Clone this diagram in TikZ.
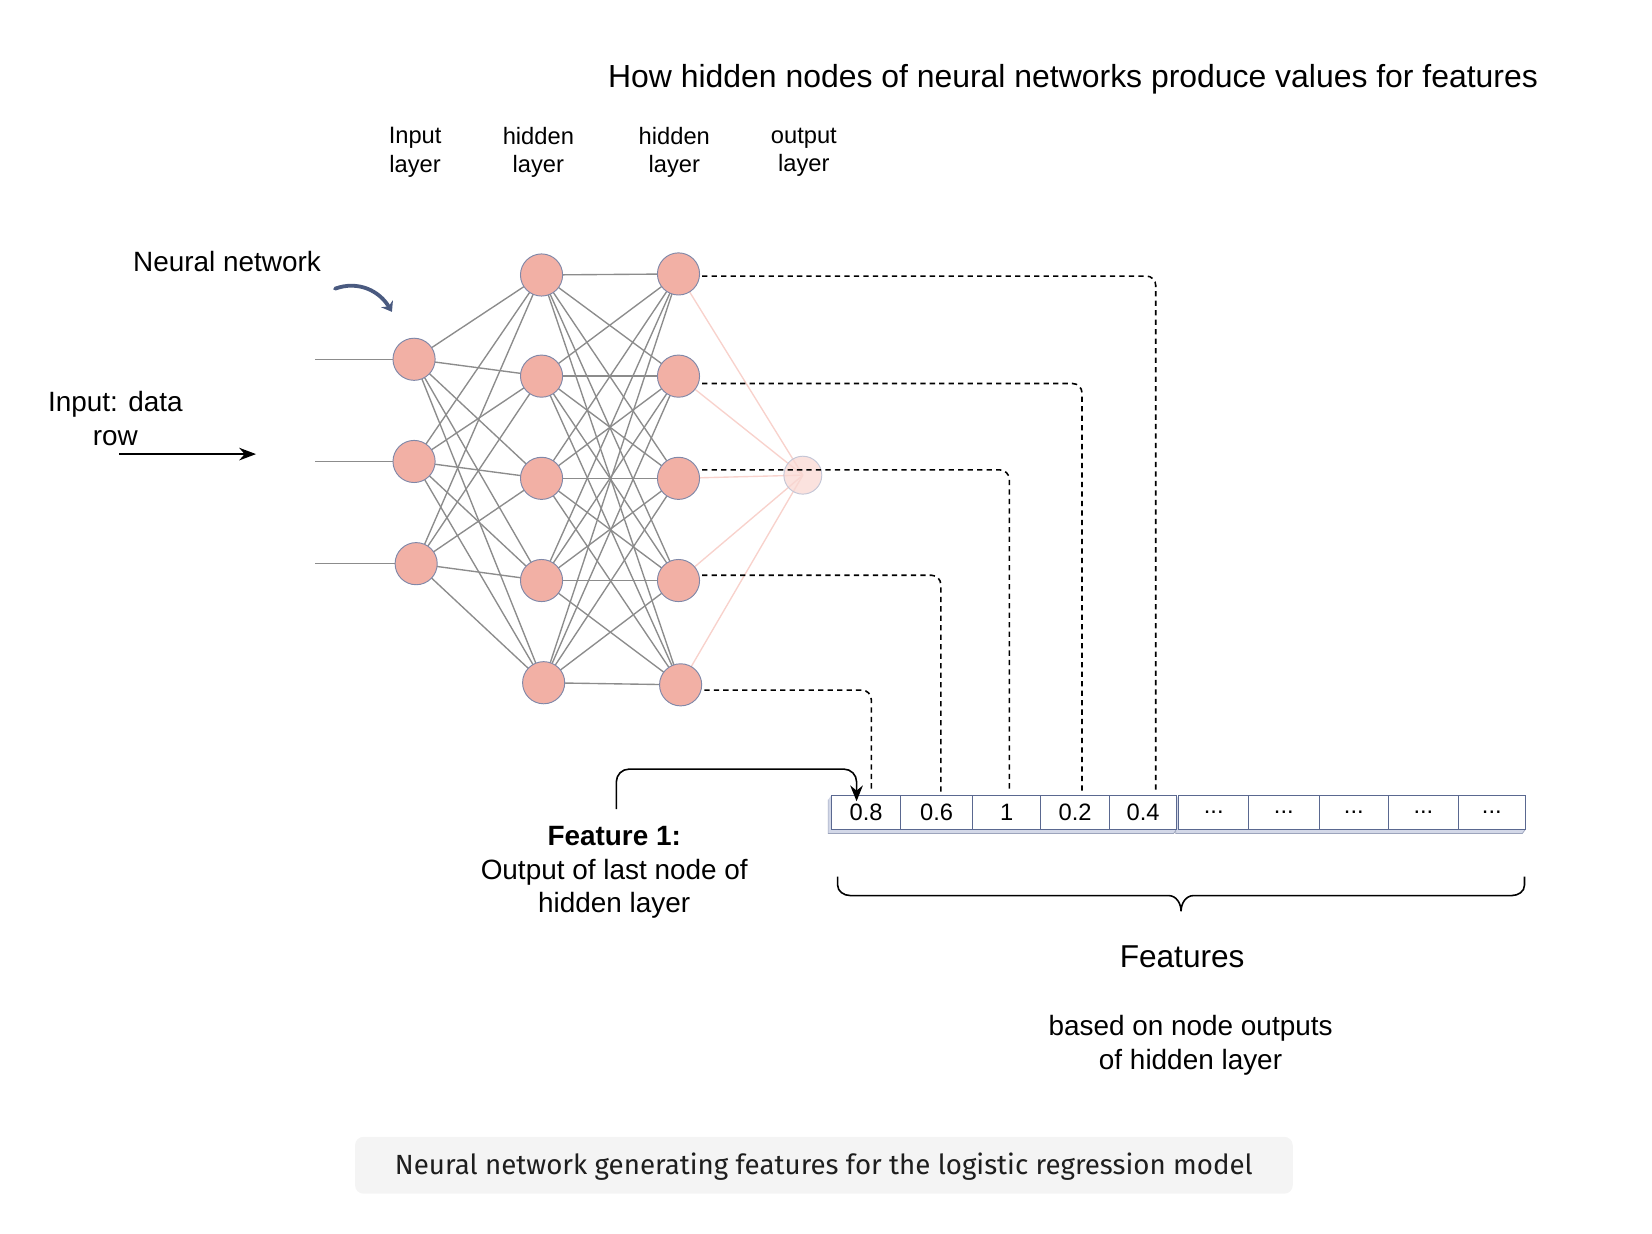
\documentclass[tikz,border=0pt]{standalone}
\usepackage{fontspec}
\setmainfont{Liberation Sans}
\newfontfamily\capfont{Fira Sans}
\usetikzlibrary{arrows.meta,calc,backgrounds}
\definecolor{nfill}{HTML}{F2B0A5}
\definecolor{ndraw}{HTML}{8088A8}
\definecolor{egray}{HTML}{8C8C8C}
\definecolor{epink}{HTML}{F8D2CC}
\definecolor{ofill}{HTML}{F9D8D3}
\definecolor{odraw}{HTML}{C4C6D6}
\definecolor{ablue}{HTML}{4A5A80}
\definecolor{cdraw}{HTML}{5A6890}
\definecolor{cshadow}{HTML}{D3D8E8}
\definecolor{capbg}{HTML}{F4F4F4}
\definecolor{captext}{HTML}{1E1E1E}
\begin{document}
\begin{tikzpicture}[x=1pt,y=-1pt,
  neuron/.style={circle,draw=ndraw,fill=nfill,line width=0.9pt,minimum size=40pt,inner sep=0pt},
  outneuron/.style={circle,draw=odraw,fill=ofill,fill opacity=0.75,line width=0.9pt,minimum size=36pt,inner sep=0pt},
  edge/.style={draw=egray,line width=1.3pt},
  pedge/.style={draw=epink,line width=1.3pt},
  dashline/.style={draw=black,line width=1.5pt,dash pattern=on 5pt off 4pt,rounded corners=9pt},
  cell/.style={rectangle,draw=cdraw,fill=white,line width=1pt,minimum height=32pt,inner sep=0pt,font=\fontsize{22.5}{26}\selectfont},
  lbl/.style={align=center,inner sep=0pt,font=\fontsize{22.5}{27}\selectfont},
  txt/.style={align=center,inner sep=0pt,font=\fontsize{26.5}{32}\selectfont}]
\useasboundingbox (0,0) rectangle (1568,1171);

% title
\node[inner sep=0pt,font=\fontsize{30.3}{36}\selectfont] (title) at (1018.5,75) {How hidden nodes of neural networks produce values for features};

% layer labels
\node[lbl] (linput) at (394,144.5) {Input\\layer};
\node[lbl] (lh1) at (511,144.5) {hidden\\layer};
\node[lbl] (lh2) at (640,144.5) {hidden\\layer};
\node[lbl] (lout) at (763,144.5) {output\\layer};

% labels left
\node[txt] (nnlabel) at (215.5,248) {Neural network};
\node[txt] (inlabel) at (109.5,397) {Input: data\\row};

% neurons
\node[neuron] (i1) at (393,341) {};
\node[neuron] (i2) at (393,438) {};
\node[neuron] (i3) at (395,535) {};
\node[neuron] (a1) at (514,261) {};
\node[neuron] (a2) at (514,357) {};
\node[neuron] (a3) at (514,454) {};
\node[neuron] (a4) at (514,551) {};
\node[neuron] (a5) at (516,648) {};
\node[neuron] (b1) at (644,260) {};
\node[neuron] (b2) at (644,357) {};
\node[neuron] (b3) at (644,454) {};
\node[neuron] (b4) at (644,551) {};
\node[neuron] (b5) at (646,650) {};
\node[outneuron] (o1) at (762,451) {};

% input stubs
\coordinate (s1) at (299,341);
\coordinate (s2) at (299,438);
\coordinate (s3) at (299,535);

\begin{scope}[on background layer]
  \foreach \i in {1,2,3}{\draw[edge] (s\i) -- (i\i);}
  \foreach \i in {1,2,3}{\foreach \j in {1,...,5}{\draw[edge] (i\i.center) -- (a\j.center);}}
  \foreach \i in {1,...,5}{\foreach \j in {1,...,5}{\draw[edge] (a\i.center) -- (b\j.center);}}
  \foreach \i in {1,...,5}{\draw[pedge] (b\i.center) -- (o1.center);}
\end{scope}

% input arrow
\coordinate (inA) at (113,431);
\coordinate (inB) at (243,431);
\draw[line width=1.6pt,-{Stealth[length=16pt,width=12pt]}] (inA) -- (inB);

% curved arrow
\coordinate (cvA) at (318,274);
\coordinate (cvB) at (372,296);
\draw[line width=3.6pt,draw=ablue,line cap=round,-{Stealth[length=9pt,width=13pt]}] (cvA) .. controls (340,266) and (360,276) .. (cvB);

% feature array shadow
\fill[cshadow] (786,759) -- (789,755) -- (789,787) -- (1117,787) -- (1114,791) -- (786,791) -- cycle;
\draw[cdraw!60,line width=0.7pt] (786,759) -- (786,791) -- (1114,791) -- (1117,787);
\fill[cshadow] (1116,759) -- (1119,755) -- (1119,787) -- (1448,787) -- (1445,791) -- (1116,791) -- cycle;
\draw[cdraw!60,line width=0.7pt] (1116,759) -- (1116,791) -- (1445,791) -- (1448,787);

% cells
\node[cell,minimum width=66pt] (c1) at (822,771) {0.8};
\node[cell,minimum width=68pt] (c2) at (889,771) {0.6};
\node[cell,minimum width=65pt] (c3) at (955.5,771) {1};
\node[cell,minimum width=65pt] (c4) at (1020.5,771) {0.2};
\node[cell,minimum width=64pt] (c5) at (1085,771) {0.4};
\node[cell,minimum width=66pt] (c6) at (1152,771) {...};
\node[cell,minimum width=67pt] (c7) at (1218.5,771) {...};
\node[cell,minimum width=66pt] (c8) at (1285,771) {...};
\node[cell,minimum width=66pt] (c9) at (1351,771) {...};
\node[cell,minimum width=64pt] (c10) at (1416,771) {...};

% dashed connectors
\draw[dashline] ([xshift=2pt,yshift=-2pt]b1.east) -| ([xshift=12pt,yshift=3pt]c5.north);
\draw[dashline] ([xshift=2pt,yshift=-7pt]b2.east) -| ([xshift=6.5pt,yshift=3pt]c4.north);
\draw[dashline] ([xshift=2pt,yshift=8pt]b3.east) -| ([xshift=2.5pt,yshift=3pt]c3.north);
\draw[dashline] ([xshift=2pt,yshift=5pt]b4.east) -| ([xshift=4pt,yshift=3pt]c2.north);
\draw[dashline] ([xshift=2pt,yshift=-5pt]b5.east) -| ([xshift=5pt,yshift=3pt]c1.north);

% feature 1 text and arrow
\node[txt] (feat1) at (583,828) {\textbf{Feature 1:}\\Output of last node of\\hidden layer};
\coordinate (f1start) at (585,768);
\draw[line width=1.5pt,rounded corners=12pt,-{Stealth[length=15pt,width=12pt]}] (f1start) -- (585,730) -- (813,730) -- ([xshift=-9pt,yshift=-6pt]c1.north);

% brace
\draw[line width=1.5pt]
  (795,832) -- (795,840) to[out=-90,in=180] (807,850) -- (1109,850) to[out=0,in=90] (1121,865)
  (1121,865) to[out=90,in=180] (1133,850) -- (1435,850) to[out=0,in=-90] (1447,840) -- (1447,832);

% features labels
\node[inner sep=0pt,font=\fontsize{30}{36}\selectfont] (feats) at (1122,908) {Features};
\node[txt] (based) at (1130,992) {based on node outputs\\of hidden layer};

% caption
\fill[capbg,rounded corners=8pt] (337,1079) rectangle (1227,1133);
\node[inner sep=0pt,text=captext,font=\capfont\fontsize{26.3}{30}\selectfont] (cap) at (782,1107) {Neural network generating features for the logistic regression model};
\end{tikzpicture}
\end{document}
